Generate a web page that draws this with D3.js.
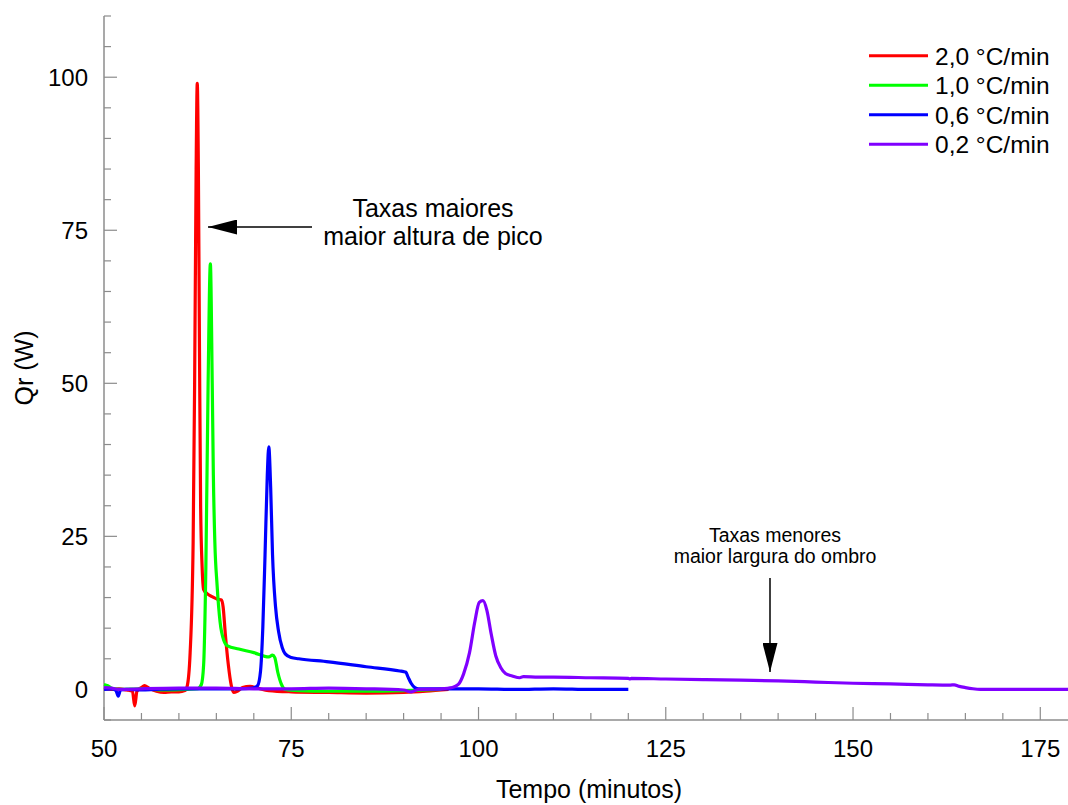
<!DOCTYPE html>
<html>
<head>
<meta charset="utf-8">
<script src="https://cdn.jsdelivr.net/npm/d3@7"></script>
<style>
  body { margin: 0; background: #fff; }
  svg { font-family: "Liberation Sans", Arial, sans-serif; }
</style>
</head>
<body>
<svg id="chart" width="1068" height="805"></svg>
<script>
// taxa 2,0 °C/min  [tempo, Qr]
const rate20 = [
  [50, 0.1], [51, 0], [52, 0.1], [53, -0.1], [53.8, -0.3], [54.1, -2.7], [54.4, -0.3],
  [55, 0.3], [55.4, 0.6], [56, 0.2], [57, -0.3], [58, -0.5], [59, -0.4], [60, -0.4],
  [60.8, -0.2], [61.1, 0.5], [61.5, 6], [61.9, 24], [62.1, 50], [62.3, 85], [62.45, 99],
  [62.6, 85], [62.75, 55], [62.9, 30], [63.1, 20], [63.3, 16.3], [63.8, 15.6], [64.5, 15.1],
  [65.2, 14.7], [65.7, 14.6], [65.9, 13.5], [66.2, 9], [66.6, 4], [67, 0.6], [67.3, -0.5],
  [67.8, -0.3], [68.5, 0.3], [69.5, 0.5], [70.5, 0.2], [72, -0.2], [75, -0.4], [80, -0.5],
  [85, -0.6], [90, -0.5], [93, -0.3], [96, 0]
];
// taxa 1,0 °C/min
const rate10 = [
  [50, 0.8], [50.5, 0.6], [51, 0.2], [52, 0], [55, 0.1], [58, -0.1], [61, 0], [62.5, 0.1],
  [63, 0.8], [63.3, 4], [63.6, 20], [63.9, 50], [64.2, 69.5], [64.45, 50], [64.6, 35],
  [64.8, 24], [65.1, 17], [65.5, 11], [66, 8], [66.5, 7.1], [68, 6.6], [70, 6.0], [72, 5.3],
  [72.5, 5.6], [72.8, 5.2], [73.2, 2.8], [73.7, 0.8], [74.2, 0], [76, -0.2], [80, -0.3],
  [85, -0.3], [90, -0.2], [95, 0]
];
// taxa 0,6 °C/min
const rate06 = [
  [50, 0], [51, 0.1], [51.6, -0.2], [51.9, -1.1], [52.2, -0.1], [53, 0], [55, -0.1], [57, 0],
  [60, 0.1], [65, 0.1], [68, 0.1], [69.8, 0.2], [70.5, 0.6], [70.9, 3], [71.2, 10], [71.5, 22],
  [71.8, 35], [72, 39.6], [72.25, 33], [72.5, 22], [72.9, 13.5], [73.3, 9.5], [73.8, 6.8],
  [74.2, 5.8], [75, 5.2], [76, 5.0], [80, 4.5], [85, 3.7], [89.5, 3.0], [90, 2.9], [90.3, 2.8],
  [90.6, 2.0], [91, 1.0], [91.5, 0.3], [92, 0.1], [95, 0.1], [100, 0.1], [105, 0], [110, 0.1],
  [115, 0], [120, 0]
];
// taxa 0,2 °C/min
const rate02 = [
  [50, 0.3], [51, 0.2], [52, 0], [55, 0.1], [60, 0.2], [65, 0.2], [70, 0.1], [75, 0.1],
  [80, 0.2], [85, 0.1], [90, -0.1], [91, -0.4], [92, 0], [95, 0.1], [96.5, 0.3], [97.3, 0.8],
  [98, 2.5], [98.8, 6], [99.5, 11], [100.1, 14.2], [100.6, 14.5], [101.1, 13], [101.7, 9],
  [102.3, 5.5], [103, 3.5], [103.6, 2.6], [104.5, 2.2], [105.5, 1.9], [106, 2.1], [108, 2.0],
  [110, 2.0], [115, 1.9], [120, 1.8], [120.2, 1.7], [120.4, 1.8], [125, 1.7], [130, 1.6],
  [135, 1.5], [140, 1.4], [145, 1.2], [150, 1.0], [155, 0.9], [160, 0.75], [163, 0.7],
  [163.5, 0.75], [164.2, 0.5], [165, 0.3], [166, 0.1], [167, 0], [170, 0], [175, 0], [178.7, 0]
];

const seriesNames = ["2,0 °C/min", "1,0 °C/min", "0,6 °C/min", "0,2 °C/min"];
const seriesData = [rate20, rate10, rate06, rate02];
const colors = ["#ff0000", "#00ff00", "#0000ff", "#8000ff"];
const xTicks = [50, 75, 100, 125, 150, 175];
const yTicks = [0, 25, 50, 75, 100];

const svg = d3.select("#chart");
const pLeft = 104, pRight = 1068, pTop = 16, pBottom = 720;

const x = d3.scaleLinear().domain([50, 178.7]).range([pLeft, pRight]);
const y = d3.scaleLinear().domain([-5, 110]).range([pBottom, pTop]);

const axisColor = "#8c8c8c";

// minor ticks (every 5), drawn inward
const g = svg.append("g");
g.selectAll(".xt").data(d3.range(50, 179, 5)).join("line")
  .attr("x1", d => x(d)).attr("x2", d => x(d))
  .attr("y1", pBottom).attr("y2", d => pBottom - (d % 25 === 0 ? 13 : 7))
  .attr("stroke", axisColor).attr("stroke-width", 1.2);
g.selectAll(".yt").data(d3.range(-5, 111, 5)).join("line")
  .attr("y1", d => y(d)).attr("y2", d => y(d))
  .attr("x1", pLeft).attr("x2", d => pLeft + (d % 25 === 0 ? 13 : 7))
  .attr("stroke", axisColor).attr("stroke-width", 1.2);

g.append("line").attr("x1", pLeft).attr("x2", pLeft).attr("y1", pTop).attr("y2", pBottom)
  .attr("stroke", axisColor).attr("stroke-width", 1.5);
g.append("line").attr("x1", pLeft).attr("x2", pRight).attr("y1", pBottom).attr("y2", pBottom)
  .attr("stroke", axisColor).attr("stroke-width", 1.5);

g.selectAll(".xl").data(xTicks).join("text")
  .attr("x", d => x(d)).attr("y", 757)
  .attr("text-anchor", "middle").attr("font-size", 24).text(d => d);
g.selectAll(".yl").data(yTicks).join("text")
  .attr("x", 88).attr("y", d => y(d) + 8.5)
  .attr("text-anchor", "end").attr("font-size", 24).text(d => d);

svg.append("text").attr("x", 589).attr("y", 798).attr("text-anchor", "middle")
  .attr("font-size", 25).text("Tempo (minutos)");
svg.append("text").attr("transform", `translate(33,${(pTop + pBottom) / 2}) rotate(-90)`)
  .attr("text-anchor", "middle").attr("font-size", 25).text("Qr (W)");

// curves
const line = d3.line().x(d => x(d[0])).y(d => y(d[1])).curve(d3.curveMonotoneX);
svg.append("g").selectAll("path").data(seriesData).join("path")
  .attr("d", line)
  .attr("fill", "none")
  .attr("stroke", (d, i) => colors[i])
  .attr("stroke-width", 3.2)
  .attr("stroke-linejoin", "round");

// legend
const leg = svg.append("g");
seriesNames.forEach((name, i) => {
  const ly = 55.7 + i * 29.5;
  leg.append("line").attr("x1", 869).attr("x2", 928).attr("y1", ly).attr("y2", ly)
    .attr("stroke", colors[i]).attr("stroke-width", 3);
  leg.append("text").attr("x", 935).attr("y", ly + 9).attr("font-size", 24.5).text(name);
});

// annotations
const defs = svg.append("defs");
defs.append("marker").attr("id", "head").attr("viewBox", "0 0 10 10")
  .attr("preserveAspectRatio", "none")
  .attr("refX", 10).attr("refY", 5).attr("markerWidth", 29).attr("markerHeight", 15)
  .attr("markerUnits", "userSpaceOnUse").attr("orient", "auto")
  .append("path").attr("d", "M0,0 L10,5 L0,10 Z").attr("fill", "#000");

svg.append("line").attr("x1", 312).attr("y1", 227).attr("x2", 208).attr("y2", 227)
  .attr("stroke", "#000").attr("stroke-width", 1.5).attr("marker-end", "url(#head)");
svg.append("text").attr("x", 433).attr("y", 217).attr("text-anchor", "middle")
  .attr("font-size", 25).text("Taxas maiores");
svg.append("text").attr("x", 433).attr("y", 245).attr("text-anchor", "middle")
  .attr("font-size", 25).text("maior altura de pico");

svg.append("line").attr("x1", 770).attr("y1", 578).attr("x2", 770).attr("y2", 672)
  .attr("stroke", "#000").attr("stroke-width", 1.5).attr("marker-end", "url(#head)");
svg.append("text").attr("x", 775).attr("y", 542).attr("text-anchor", "middle")
  .attr("font-size", 19.5).text("Taxas menores");
svg.append("text").attr("x", 775).attr("y", 563).attr("text-anchor", "middle")
  .attr("font-size", 19.5).text("maior largura do ombro");
</script>
</body>
</html>
